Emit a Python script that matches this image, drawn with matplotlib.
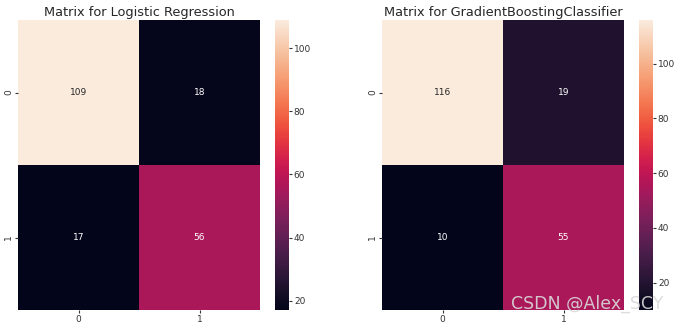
import numpy as np
import matplotlib
matplotlib.use("Agg")
import matplotlib.pyplot as plt
import seaborn as sns

labels = ["0", "1"]
cm_logreg = np.array([[109, 18],
                      [17, 56]])
cm_gbc = np.array([[116, 19],
                   [10, 55]])
titles = ["Matrix for Logistic Regression", "Matrix for GradientBoostingClassifier"]

W, H = 679, 326
fig = plt.figure(figsize=(W / 100, H / 100), dpi=100)

def box(x0, y0, x1, y1):
    return [x0 / W, 1 - y1 / H, (x1 - x0) / W, (y1 - y0) / H]

panels = [
    (cm_logreg, titles[0], box(18, 20, 260, 310), box(275, 20, 289, 310)),
    (cm_gbc, titles[1], box(382, 20, 624, 310), box(639, 20, 653, 310)),
]

for cm, title, ax_pos, cb_pos in panels:
    ax = fig.add_axes(ax_pos)
    cax = fig.add_axes(cb_pos)
    sns.heatmap(cm, annot=True, fmt="d", ax=ax, cbar_ax=cax,
                xticklabels=labels, yticklabels=labels,
                annot_kws={"fontsize": 6.5})
    ax.set_title(title, fontsize=9.3, color="#262626", pad=3)
    ax.tick_params(labelsize=6.5, colors="#333333", length=2, pad=1.5)
    ax.tick_params(axis="y", rotation=90)
    cax.tick_params(labelsize=6.5, colors="#333333", length=2, pad=1.5)
    cax.yaxis.set_major_locator(matplotlib.ticker.MultipleLocator(20))

fig.text(663 / W, 1 - 304 / H, "CSDN @Alex_SCY", ha="right", va="center",
         fontsize=12.5, color="#d9d9d9", alpha=0.9)

fig.savefig("out.png", dpi=100)
